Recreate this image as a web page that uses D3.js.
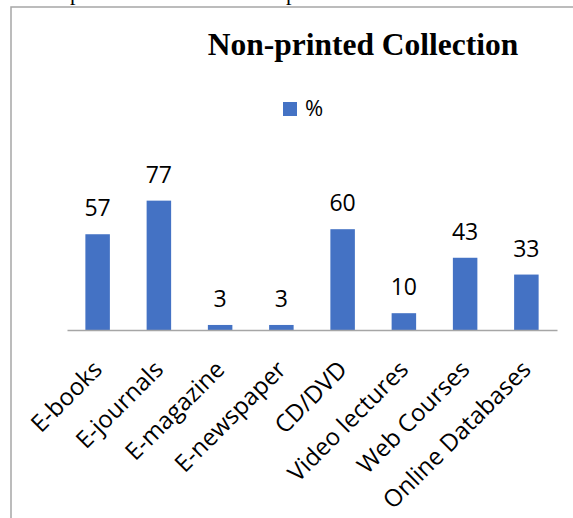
<!DOCTYPE html>
<html>
<head>
<meta charset="utf-8">
<script src="https://cdn.jsdelivr.net/npm/d3@7"></script>
<style>
  body { margin: 0; background: #fff; }
  svg { display: block; }
</style>
</head>
<body>
<div class="d3"></div>
<script>
'use strict';

const categories = ['E-books', 'E-journals', 'E-magazine', 'E-newspaper', 'CD/DVD', 'Video lectures', 'Web Courses', 'Online Databases'];
const percent = [57, 77, 3, 3, 60, 10, 43, 33];
const seriesName = '%';
const chartTitle = 'Non-printed Collection';

const colors = {
  'Bar': '#4472c4',
  'Axis': '#a6a6a6',
  'Frame': '#a6a6a6',
  'Text': '#000000'
};

function drawChart() {
  const width = 573, height = 518;
  const svg = d3.select('.d3').append('svg')
    .attr('width', width)
    .attr('height', height);

  svg.append('rect').attr('width', width).attr('height', height).attr('fill', '#fff');

  // bits of the page text above the chart box (only descenders show)
  svg.append('g')
    .attr('font-family', '"Liberation Serif", serif')
    .attr('font-size', 22)
    .selectAll('text')
    .data([70, 286])
    .join('text')
    .attr('x', d => d)
    .attr('y', 0)
    .text('p');

  // chart frame (top and left edges visible)
  svg.append('path')
    .attr('d', 'M11,518 V7 H573')
    .attr('fill', 'none')
    .attr('stroke', colors['Frame'])
    .attr('stroke-width', 1.5);

  svg.append('text')
    .attr('x', 363)
    .attr('y', 55)
    .attr('text-anchor', 'middle')
    .attr('font-family', '"Liberation Serif", "Times New Roman", serif')
    .attr('font-weight', 'bold')
    .attr('font-size', 31.5)
    .text(chartTitle);

  // legend
  const legend = svg.append('g');
  legend.append('rect')
    .attr('x', 283).attr('y', 102)
    .attr('width', 14).attr('height', 14)
    .attr('fill', colors['Bar']);
  legend.append('text')
    .attr('x', 305).attr('y', 116)
    .attr('font-family', '"Open Sans", sans-serif')
    .attr('font-size', 22)
    .text(seriesName);

  const x_scale = d3.scaleBand()
    .domain(categories)
    .range([67, 557])
    .paddingInner(0.6)
    .paddingOuter(0.3);

  const y_scale = d3.scaleLinear()
    .domain([0, 90])
    .range([330, 330 - 151.2]);

  const data = categories.map((c, i) => ({ cat: c, value: percent[i] }));

  svg.selectAll('.bar')
    .data(data)
    .join('rect')
    .attr('class', 'bar')
    .attr('x', d => x_scale(d.cat))
    .attr('y', d => y_scale(d.value))
    .attr('width', x_scale.bandwidth())
    .attr('height', d => y_scale(0) - y_scale(d.value))
    .attr('fill', colors['Bar']);

  // x axis, drawn with d3 and restyled
  const xAxis = svg.append('g')
    .attr('transform', 'translate(0,' + y_scale(0) + ')')
    .call(d3.axisBottom(x_scale).tickSize(0).tickPadding(0));
  xAxis.select('.domain')
    .attr('stroke', colors['Axis'])
    .attr('stroke-width', 1.5);
  xAxis.selectAll('.tick text')
    .attr('font-family', '"Open Sans", sans-serif')
    .attr('font-size', 24)
    .attr('fill', colors['Text'])
    .attr('text-anchor', 'end')
    .attr('dy', 0)
    .attr('y', 0)
    .attr('transform', 'translate(6,41) rotate(-45)');

  // data labels
  svg.selectAll('.label')
    .data(data)
    .join('text')
    .attr('class', 'label')
    .attr('x', d => x_scale(d.cat) + x_scale.bandwidth() / 2)
    .attr('y', d => y_scale(d.value) - 18)
    .attr('text-anchor', 'middle')
    .attr('font-family', '"Open Sans", sans-serif')
    .attr('font-size', 23)
    .attr('fill', colors['Text'])
    .text(d => d.value);
}

drawChart();
</script>
</body>
</html>
